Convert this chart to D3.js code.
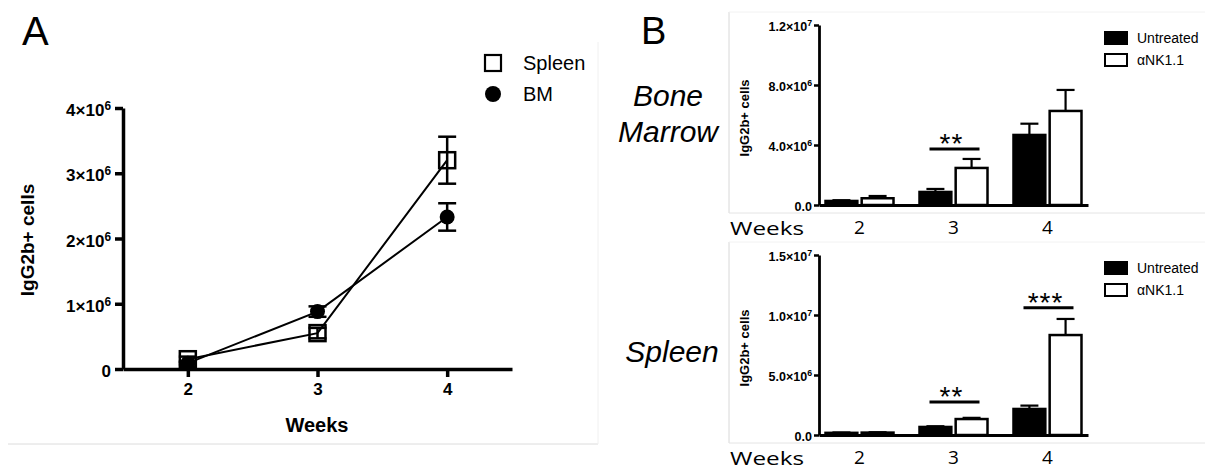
<!DOCTYPE html>
<html><head><meta charset="utf-8">
<script src="https://cdn.jsdelivr.net/npm/d3@7"></script>
<style>body{margin:0;background:#fff}svg{display:block}</style>
</head><body>
<svg id="c" width="1205" height="471"></svg>
<script>
// ---------- DATA ----------
const weeks = [2, 3, 4];
// Panel A
const spleenMean = [0.15e6, 0.55e6, 3.2e6];
const spleenErr  = [0.04e6, 0.08e6, 0.36e6];
const bmMean     = [0.09e6, 0.88e6, 2.33e6];
const bmErr      = [0.02e6, 0.08e6, 0.21e6];
const aYTicks    = [0, 1e6, 2e6, 3e6, 4e6];
const aSeries    = ["Spleen", "BM"];
// Panel B
const groups = ["Untreated", "αNK1.1"];
const bmUntreated    = [0.27e6, 0.87e6, 4.67e6];
const bmUntreatedErr = [0.05e6, 0.2e6, 0.75e6];
const bmAnk          = [0.45e6, 2.47e6, 6.27e6];
const bmAnkErr       = [0.15e6, 0.6e6, 1.4e6];
const spUntreated    = [0.18e6, 0.67e6, 2.17e6];
const spUntreatedErr = [0.03e6, 0.06e6, 0.28e6];
const spAnk          = [0.2e6, 1.33e6, 8.33e6];
const spAnkErr       = [0.03e6, 0.1e6, 1.34e6];
const bmTicks = [0, 4e6, 8e6, 1.2e7];
const spTicks = [0, 5e6, 1e7, 1.5e7];
const bmSig = [{week: 3, label: "**", value: 3.73e6}];
const spSig = [{week: 3, label: "**", value: 2.75e6}, {week: 4, label: "***", value: 10.6e6}];

// ---------- HELPERS ----------
const svg = d3.select("#c");
const AR = "'Liberation Sans', Arial, sans-serif";

function sciText(textSel, decimals) {
  textSel.each(function(v) {
    const t = d3.select(this);
    t.text(null);
    if (v === 0) { t.text(decimals ? (0).toFixed(decimals) : "0"); return; }
    const e = Math.floor(Math.log10(v) + 1e-9);
    const m = v / Math.pow(10, e);
    t.append("tspan").text((decimals ? m.toFixed(decimals) : Math.round(m)) + "×10");
    t.append("tspan").attr("dy", "-0.5em").attr("font-size", "70%").text(e);
  });
}

// ---------- PANEL A ----------
const gA = svg.append("g");
const xA = d3.scaleLinear().domain([1.5, 4.5]).range([123, 512]);
const yA = d3.scaleLinear().domain([0, 4e6]).range([369, 108]);

svg.append("line").attr("x1", 8).attr("x2", 598).attr("y1", 444).attr("y2", 444).attr("stroke", "#dcdcdc").attr("stroke-width", 1);
svg.append("line").attr("x1", 598).attr("x2", 598).attr("y1", 42).attr("y2", 444).attr("stroke", "#f0f0f0").attr("stroke-width", 1);

const axA_x = gA.append("g").attr("transform", `translate(0,${yA(0)})`)
  .call(d3.axisBottom(xA).tickValues(weeks).tickSize(8).tickPadding(6).tickSizeOuter(0).tickFormat(d3.format("d")));
const axA_y = gA.append("g").attr("transform", `translate(${xA(1.5)},0)`)
  .call(d3.axisLeft(yA).tickValues(aYTicks).tickSize(8).tickPadding(4).tickSizeOuter(0));
axA_y.selectAll(".tick text").call(sciText, 0);
[axA_x, axA_y].forEach(a => {
  a.selectAll(".domain").attr("stroke-width", 3.5).attr("stroke", "#000");
  a.selectAll(".tick line").attr("stroke-width", 3.5).attr("stroke", "#000");
  a.selectAll("text").attr("font-family", AR).attr("font-weight", "bold").attr("font-size", 17).attr("fill", "#000");
});
axA_y.selectAll(".tick text").attr("dy", "0.45em");

gA.append("text").attr("x", 317).attr("y", 432).attr("text-anchor", "middle")
  .attr("font-family", AR).attr("font-weight", "bold").attr("font-size", 20).text("Weeks");
gA.append("text").attr("transform", "translate(34,240) rotate(-90)").attr("text-anchor", "middle")
  .attr("font-family", AR).attr("font-weight", "bold").attr("font-size", 19).text("IgG2b+ cells");
svg.append("text").attr("x", 22).attr("y", 45).attr("font-family", AR).attr("font-size", 40).text("A");

const line = d3.line().x((d, i) => xA(weeks[i])).y(d => yA(d));
const aData = [
  {name: "Spleen", mean: spleenMean, err: spleenErr},
  {name: "BM", mean: bmMean, err: bmErr}
];
aData.forEach(s => {
  gA.append("path").attr("d", line(s.mean)).attr("fill", "none").attr("stroke", "#000").attr("stroke-width", 2);
});
aData.forEach(s => {
  const g = gA.append("g");
  s.mean.forEach((m, i) => {
    const x = xA(weeks[i]);
    g.append("line").attr("x1", x).attr("x2", x).attr("y1", yA(m - s.err[i])).attr("y2", yA(m + s.err[i])).attr("stroke", "#000").attr("stroke-width", 2.5);
    [m - s.err[i], m + s.err[i]].forEach(v => g.append("line").attr("x1", x - 9).attr("x2", x + 9).attr("y1", yA(v)).attr("y2", yA(v)).attr("stroke", "#000").attr("stroke-width", 2.5));
  });
  s.mean.forEach((m, i) => {
    const x = xA(weeks[i]), y = yA(m);
    if (s.name === "Spleen") {
      g.append("rect").attr("x", x - 8).attr("y", y - 8).attr("width", 16).attr("height", 16).attr("fill", "none").attr("stroke", "#000").attr("stroke-width", 2.5);
    } else {
      g.append("circle").attr("cx", x).attr("cy", y).attr("r", 7.5).attr("fill", "#000");
    }
  });
});
const legA = gA.append("g");
aSeries.forEach((name, i) => {
  const cy = 63 + i * 31;
  if (name === "Spleen") legA.append("rect").attr("x", 485).attr("y", cy - 8).attr("width", 16).attr("height", 16).attr("fill", "#fff").attr("stroke", "#000").attr("stroke-width", 2.2);
  else legA.append("circle").attr("cx", 493).attr("cy", cy).attr("r", 8).attr("fill", "#000");
  legA.append("text").attr("x", 523).attr("y", cy + 7).attr("font-family", AR).attr("font-size", 20).text(name);
});

// ---------- PANEL B ----------
svg.append("text").attr("x", 641).attr("y", 44).attr("font-family", AR).attr("font-size", 38).text("B");
[["Bone", 106], ["Marrow", 142]].forEach(([t, y]) =>
  svg.append("text").attr("x", 668).attr("y", y).attr("text-anchor", "middle").attr("font-family", AR).attr("font-style", "italic").attr("font-size", 30).text(t));
svg.append("text").attr("x", 672).attr("y", 362).attr("text-anchor", "middle").attr("font-family", AR).attr("font-style", "italic").attr("font-size", 30).text("Spleen");

function barPanel(opts) {
  const {top, bottom, ticks, unt, untErr, ank, ankErr, sig, frameTop, frameBottom} = opts;
  const g = svg.append("g");
  g.append("line").attr("x1", 729).attr("x2", 729).attr("y1", frameTop).attr("y2", frameBottom).attr("stroke", "#d8d8d8");
  g.append("line").attr("x1", 729).attr("x2", 1205).attr("y1", frameBottom).attr("y2", frameBottom).attr("stroke", "#e4e4e4");
  g.append("line").attr("x1", 729).attr("x2", 1205).attr("y1", frameTop).attr("y2", frameTop).attr("stroke", "#f2f2f2");

  const x = d3.scalePoint().domain(weeks).range([819, 1088]).padding(0.431);
  const sub = d3.scaleBand().domain(groups).range([-34, 34]).paddingInner(0.12);
  const y = d3.scaleLinear().domain([0, ticks[ticks.length - 1]]).range([bottom, top]);

  const series = [
    {name: groups[0], vals: unt, err: untErr, fill: "#000"},
    {name: groups[1], vals: ank, err: ankErr, fill: "#fff"}
  ];
  series.forEach(s => {
    s.vals.forEach((v, i) => {
      const cx = x(weeks[i]) + sub(s.name) + sub.bandwidth() / 2;
      g.append("line").attr("x1", cx).attr("x2", cx).attr("y1", y(v)).attr("y2", y(v + s.err[i])).attr("stroke", "#000").attr("stroke-width", 2.2);
      g.append("line").attr("x1", cx - 9).attr("x2", cx + 9).attr("y1", y(v + s.err[i])).attr("y2", y(v + s.err[i])).attr("stroke", "#000").attr("stroke-width", 2.2);
      g.append("rect").attr("x", x(weeks[i]) + sub(s.name)).attr("width", sub.bandwidth())
        .attr("y", y(v)).attr("height", y(0) - y(v)).attr("fill", s.fill).attr("stroke", "#000").attr("stroke-width", 2.5);
    });
  });

  const axY = g.append("g").attr("transform", "translate(819,0)")
    .call(d3.axisLeft(y).tickValues(ticks).tickSize(5).tickPadding(2).tickSizeOuter(0));
  axY.selectAll(".tick text").call(sciText, 1).attr("dy", "0.4em");
  const axX = g.append("g").attr("transform", `translate(0,${bottom})`)
    .call(d3.axisBottom(x).tickValues([]).tickSizeOuter(0));
  [axX, axY].forEach(a => {
    a.selectAll(".domain").attr("stroke-width", 2.8).attr("stroke", "#000");
    a.selectAll(".tick line").attr("stroke-width", 2.5).attr("stroke", "#000");
    a.selectAll("text").attr("font-family", AR).attr("font-weight", "bold").attr("font-size", 12.5).attr("fill", "#000");
  });

  g.append("text").attr("transform", `translate(749,${(top + bottom) / 2 + 3}) rotate(-90)`).attr("text-anchor", "middle")
    .attr("font-family", AR).attr("font-weight", "bold").attr("font-size", 13).text("IgG2b+ cells");

  const WF = "'Open Sans', Lato, sans-serif";
  weeks.forEach(w => g.append("text").attr("x", x(w)).attr("y", bottom + 29).attr("text-anchor", "middle").attr("font-family", WF).attr("font-size", 19).text(w));
  g.append("text").attr("x", 730).attr("y", bottom + 30).attr("font-family", WF).attr("font-size", 19)
    .attr("textLength", 74).attr("lengthAdjust", "spacingAndGlyphs").text("Weeks");

  sig.forEach(s => {
    const cx = x(s.week) + 1;
    g.append("line").attr("x1", cx - 25).attr("x2", cx + 25).attr("y1", y(s.value)).attr("y2", y(s.value)).attr("stroke", "#000").attr("stroke-width", 3);
    g.append("text").attr("x", cx - 3).attr("y", y(s.value) + 4).attr("text-anchor", "middle").attr("font-family", AR).attr("font-size", 28).attr("letter-spacing", 1).text(s.label);
  });

  groups.forEach((name, i) => {
    const ry = top + 7 + i * 22;
    g.append("rect").attr("x", 1105).attr("y", ry).attr("width", 22).attr("height", 12).attr("fill", i === 0 ? "#000" : "#fff").attr("stroke", "#000").attr("stroke-width", 2);
    g.append("text").attr("x", 1137).attr("y", ry + 11).attr("font-family", AR).attr("font-size", 14).text(name);
  });
}

barPanel({top: 25, bottom: 205, ticks: bmTicks, unt: bmUntreated, untErr: bmUntreatedErr, ank: bmAnk, ankErr: bmAnkErr, sig: bmSig, frameTop: 12, frameBottom: 213});
barPanel({top: 255, bottom: 435, ticks: spTicks, unt: spUntreated, untErr: spUntreatedErr, ank: spAnk, ankErr: spAnkErr, sig: spSig, frameTop: 242, frameBottom: 443});
</script>
</body></html>
